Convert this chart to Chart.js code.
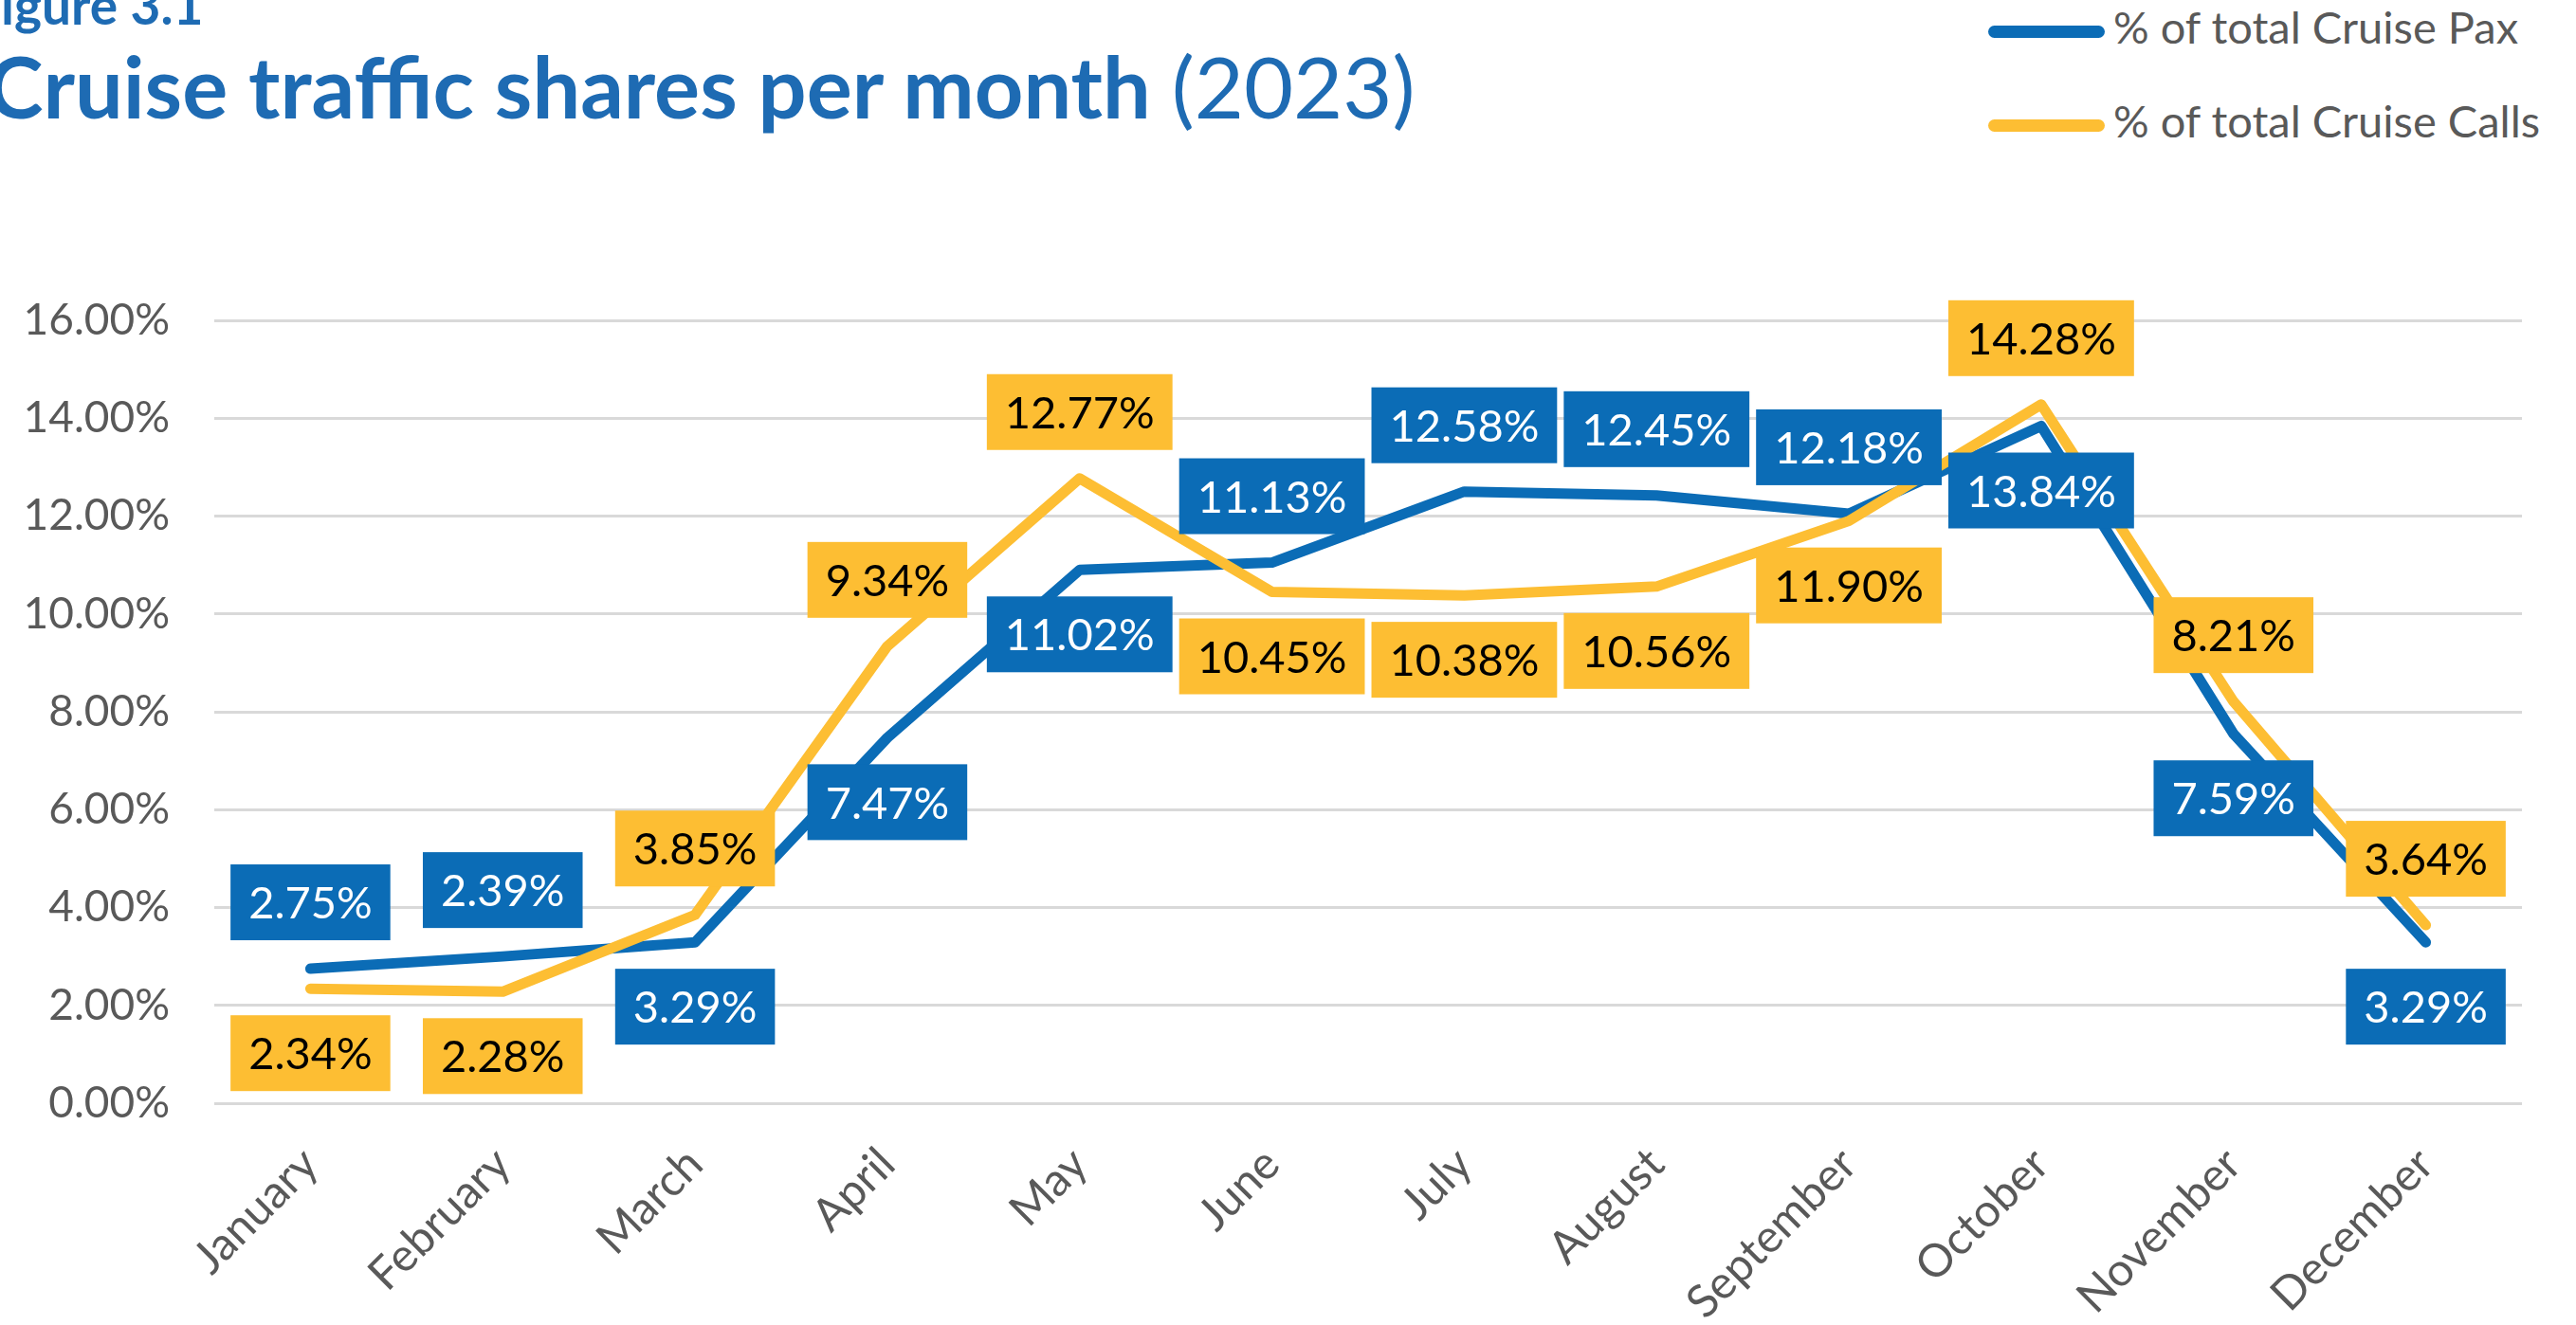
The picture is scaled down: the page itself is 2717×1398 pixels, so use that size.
<!DOCTYPE html>
<html>
<head>
<meta charset="utf-8">
<script src="https://cdn.jsdelivr.net/npm/chart.js@4.4.1/dist/chart.umd.min.js"></script>
<style>
  body { margin: 0; background: #fff; overflow: hidden; }
  .page { position: relative; width: 2717px; height: 1398px; overflow: hidden; font-family: Lato, sans-serif; }
  .fig { position: absolute; left: -30px; top: -22px; font-size: 55px; line-height: 1; font-weight: 700; color: #1e6bb3; white-space: nowrap; }
  .title { position: absolute; left: -14px; top: 45px; font-size: 90px; line-height: 1; font-weight: 700; color: #1e6bb3; white-space: nowrap; }
  .title span { font-weight: 400; }
  .legend-line { position: absolute; left: 2097px; width: 123px; height: 13px; border-radius: 7px; }
  .legend-text { position: absolute; left: 2229px; font-size: 47px; line-height: 1; color: #595959; white-space: nowrap; }
  canvas { position: absolute; left: 0; top: 0; }
</style>
</head>
<body>
<div class="page">
  <div class="fig">Figure 3.1</div>
  <div class="title">Cruise traffic shares per month <span>(2023)</span></div>
  <div id="legend"></div>
  <canvas id="chart" width="2717" height="1398"></canvas>
</div>
<script>
const months = ["January", "February", "March", "April", "May", "June", "July", "August", "September", "October", "November", "December"]

// blue line as drawn, and the text printed in its boxes
const paxValues = [2.75, 3.00, 3.29, 7.47, 10.90, 11.05, 12.50, 12.42, 12.05, 13.84, 7.55, 3.29]
const paxLabels = ["2.75%", "2.39%", "3.29%", "7.47%", "11.02%", "11.13%", "12.58%", "12.45%", "12.18%", "13.84%", "7.59%", "3.29%"]

const callsValues = [2.34, 2.28, 3.85, 9.34, 12.77, 10.45, 10.38, 10.56, 11.90, 14.28, 8.21, 3.64]
const callsLabels = callsValues.map(v => v.toFixed(2) + "%")

const yTicks = [0, 2, 4, 6, 8, 10, 12, 14, 16]

const BLUE = "#0b6cb6"
const YELLOW = "#fdbe33"

// boxed value labels, the higher series of a month goes above its point
const boxLabels = {
    id: "boxLabels",
    afterDatasetsDraw(chart) {
        const ctx = chart.ctx
        const pax = chart.getDatasetMeta(0).data
        const calls = chart.getDatasetMeta(1).data
        ctx.save()
        ctx.font = "47px Lato"
        ctx.textAlign = "center"
        ctx.textBaseline = "middle"
        const drawBox = (pt, text, above, fill, color) => {
            const w = ctx.measureText(text).width + 38
            const h = 80
            const top = above ? pt.y - 30 - h : pt.y + 28
            ctx.fillStyle = fill
            ctx.fillRect(pt.x - w / 2, top, w, h)
            ctx.fillStyle = color
            ctx.fillText(text, pt.x, top + h / 2 + 2)
        }
        months.forEach((m, i) => {
            const paxUp = paxValues[i] > callsValues[i]
            drawBox(calls[i], callsLabels[i], !paxUp, YELLOW, "#000")
            drawBox(pax[i], paxLabels[i], paxUp, BLUE, "#fff")
        })
        ctx.restore()
    }
}

const config = {
    type: "line",
    data: {
        labels: months,
        datasets: [{
            label: "% of total Cruise Pax",
            data: paxValues,
            borderColor: BLUE,
            backgroundColor: BLUE,
            order: 2
        }, {
            label: "% of total Cruise Calls",
            data: callsValues,
            borderColor: YELLOW,
            backgroundColor: YELLOW,
            order: 1
        }]
    },
    options: {
        responsive: false,
        animation: false,
        layout: { padding: { top: 338, right: 57, left: 0, bottom: 0 } },
        elements: {
            line: { borderWidth: 11, tension: 0, borderJoinStyle: "round", borderCapStyle: "round" },
            point: { radius: 0, hoverRadius: 0 }
        },
        plugins: { legend: { display: false }, tooltip: { enabled: false } },
        scales: {
            x: {
                offset: true,
                grid: { display: false },
                border: { display: false },
                ticks: {
                    autoSkip: false,
                    minRotation: 45,
                    maxRotation: 45,
                    padding: 28,
                    color: "#595959",
                    font: { family: "Lato", size: 48 }
                },
                afterFit: (scale) => { scale.height = 234 }
            },
            y: {
                min: yTicks[0],
                max: yTicks[yTicks.length - 1],
                afterBuildTicks: (scale) => { scale.ticks = yTicks.map(v => ({ value: v })) },
                grid: { color: "#d9d9d9", lineWidth: 3, drawTicks: false },
                border: { display: false },
                ticks: {
                    padding: 47,
                    color: "#595959",
                    font: { family: "Lato", size: 46 },
                    callback: (v) => v.toFixed(2) + "%"
                },
                afterFit: (scale) => { scale.width = 226 }
            }
        }
    },
    plugins: [boxLabels]
}

const legend = document.querySelector("#legend")
config.data.datasets.forEach((ds, i) => {
    const line = document.createElement("div")
    line.className = "legend-line"
    line.style.top = (27 + i * 99) + "px"
    line.style.background = ds.borderColor
    const text = document.createElement("div")
    text.className = "legend-text"
    text.style.top = (5 + i * 99) + "px"
    text.textContent = ds.label
    legend.appendChild(line)
    legend.appendChild(text)
})

Promise.all([
    document.fonts.load("46px Lato"),
    document.fonts.load("bold 88px Lato")
]).finally(() => {
    new Chart(document.querySelector("#chart"), config)
})
</script>
</body>
</html>
